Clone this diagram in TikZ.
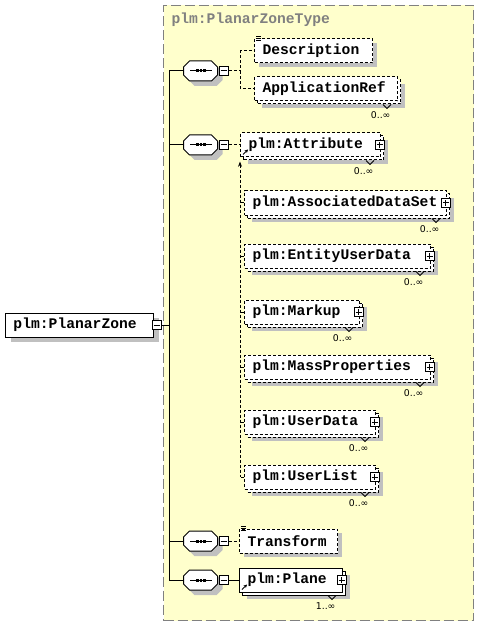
\documentclass[tikz,border=0pt]{standalone}
\usepackage{fontspec}
\setmainfont{Liberation Sans}
\setmonofont{Liberation Mono}
\newfontfamily\occfont{DejaVu Sans}
\usetikzlibrary{arrows.meta, positioning, shadows}
\definecolor{cyellow}{HTML}{FFFFCC}
\definecolor{cshade}{HTML}{C0C0C0}
\definecolor{cgrey}{HTML}{808080}
\newcommand{\elemfont}{\fontsize{11}{13}\selectfont\ttfamily\bfseries}
\tikzset{
  every picture/.style={line width=0.75pt},
  typebox/.style={draw=cgrey, fill=cyellow, dash pattern=on 7.5pt off 3pt, anchor=north west, inner sep=0pt},
  typetitle/.style={font=\elemfont, text=cgrey, anchor=west, inner sep=0pt},
  elem/.style={draw, fill=white, anchor=west, font=\elemfont, inner xsep=6pt, inner ysep=0pt, minimum height=18pt, text width=#1, align=left},
  opt/.style={dash pattern=on 2.25pt off 1.5pt},
  dropshade/.style={drop shadow={shadow xshift=#1, shadow yshift=-#1, fill=cshade, opacity=1}},
  dropshade/.default=3pt,
  multi/.style={dropshade=5.25pt, general shadow={shadow xshift=2.25pt, shadow yshift=-2.25pt, draw=black, fill=white, #1}},
  multi/.default=solid,
  minus/.style={draw, solid, fill=white, minimum size=7pt, inner sep=0pt,
    path picture={\draw ([xshift=1.3pt]path picture bounding box.west) -- ([xshift=-1.3pt]path picture bounding box.east);}},
  plus/.style={minus,
    path picture={\draw ([xshift=1.3pt]path picture bounding box.west) -- ([xshift=-1.3pt]path picture bounding box.east);
      \draw ([yshift=-1.3pt]path picture bounding box.north) -- ([yshift=1.3pt]path picture bounding box.south);}},
  seq/.style={minimum width=25.5pt, minimum height=15pt, inner sep=0pt},
  occ/.style={font=\occfont\fontsize{7}{8}\selectfont, inner sep=0pt, anchor=north east},
}
\begin{document}
\begin{tikzpicture}[x=0.75pt, y=-0.75pt]
  \useasboundingbox (0,0) rectangle (479,627);
  % complex type frame
  \node[typebox, minimum width=232.5pt, minimum height=461.25pt] (ztype) at (163,5) {};
  \node[typetitle] (ztitle) at (171,20) {plm:PlanarZoneType};
  % the element itself
  \node[elem=99pt, dropshade=3.75pt] (zone) at (5,325) {plm:PlanarZone};
  \node[minus] (zm) at ([xshift=2pt]zone.east) {};
  \coordinate (trunk) at (169,325);
  \draw (zm.east) -- (trunk);
  % the four sequences
  \foreach \s/\y in {1/71, 2/145, 3/541, 4/580} {
    \node[seq] (s\s) at (201,\y) {};
    \fill[cshade] ([shift={(5,5)}]s\s.west) ++(0,-4) -- ++(6,-6) -- ++(22,0) -- ++(6,6) -- ++(0,8) -- ++(-6,6) -- ++(-22,0) -- ++(-6,-6) -- cycle;
    \filldraw[fill=white] (s\s.west) ++(0,-4) -- ++(6,-6) -- ++(22,0) -- ++(6,6) -- ++(0,8) -- ++(-6,6) -- ++(-22,0) -- ++(-6,-6) -- cycle;
    \draw (s\s.center) ++(-11,0) -- ++(22,0);
    \foreach \dx in {-3.5,0,3.5} \fill ([shift={(\dx-1.3,-1.5)}]s\s.center) rectangle ++(2.6,3);
    \node[minus, right=0pt of s\s] (m\s) {};
    \draw (s\s.west) -- (s\s.west -| trunk);
  }
  \draw (s1.west -| trunk) -- (s4.west -| trunk);
  % first sequence
  \node[elem=76.5pt, opt, dropshade] (desc) at (254,51) {Description};
  \node[elem=95.25pt, opt, multi=opt] (appref) at (254,89) {ApplicationRef};
  \draw[opt] (m1.east) -- ++(12,0) coordinate (j1) |- (desc.west);
  \draw[opt] (j1) |- (appref.west);
  % second sequence
  \node[elem=93pt, opt, multi=opt] (att) at (240,145) {plm:Attribute};
  \draw[opt] (m2.east) -- (att.west);
  \foreach \n/\t/\y/\w in {ads/AssociatedDataSet/203/139.5pt, eud/EntityUserData/256/127.5pt, mkp/Markup/312/74.25pt,
      mas/MassProperties/367/127.5pt, udt/UserData/422/86.25pt, ulst/UserList/477/86.25pt} {
    \node[elem=\w, opt, multi=opt] (\n) at (244,\y) {plm:\t};
    \draw[opt] (\n.west) -- (\n.west -| att.west);
  }
  \draw[opt, {Stealth[length=4pt, width=3pt]}-] ([yshift=-3pt]att.south west) -- (att.west |- ulst.west);
  % third and fourth sequence
  \node[elem=61.5pt, opt, dropshade] (transform) at (239,541) {Transform};
  \draw[opt] (m3.east) -- (transform.west);
  \node[elem=65.25pt, multi] (plane) at (239,580) {plm:Plane};
  \draw (m4.east) -- (plane.west);
  % occurrences
  \foreach \n/\o in {appref/0..∞, att/0..∞, ads/0..∞, eud/0..∞, mkp/0..∞, mas/0..∞, udt/0..∞, ulst/0..∞, plane/1..∞} {
    \draw ([shift={(-15,3)}]\n.south east) -- ++(4,4) -- ++(4,-4);
    \node[occ] (\n-o) at ([shift={(-7,10)}]\n.south east) {\o};
  }
  \foreach \n in {att, ads, eud, mkp, mas, udt, ulst, plane}
    \node[plus] (\n-p) at ([xshift=-1pt]\n.east) {};
  % simple content and ref marks
  \foreach \n in {desc, transform}
    \foreach \dy in {0,2,4}
      \draw[line width=0.5pt] ([shift={(2,\dy-2)}]\n.north west) -- ++(5,0);
  \foreach \n in {att, plane}
    \draw[-{Stealth[length=2.5pt, width=2.5pt]}] ([shift={(3,-3)}]\n.south west) -- ++(5,-5);
\end{tikzpicture}
\end{document}
